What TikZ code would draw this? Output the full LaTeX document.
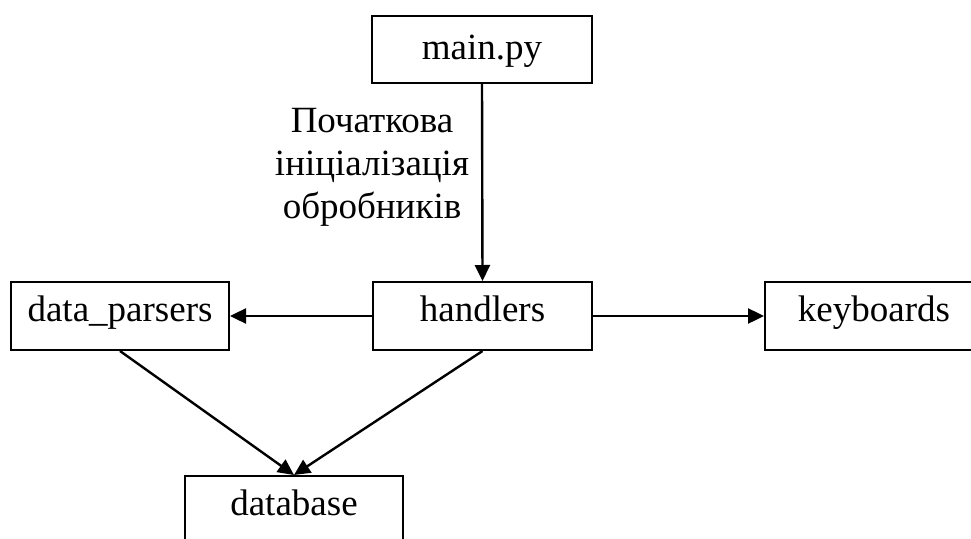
\documentclass[tikz,border=0pt]{standalone}
\usepackage{fontspec}
\setmainfont{Liberation Serif}
\usetikzlibrary{arrows.meta}

\begin{document}
\begin{tikzpicture}[x=1pt,y=-1pt,
  module/.style={draw, line width=2pt, minimum width=218pt, minimum height=68pt,
    inner sep=0pt, font=\fontsize{37}{43}\selectfont,
    text height=22pt, text depth=12pt},
  link/.style={line width=2.4pt, -{Triangle[length=16pt,width=15pt]}},
  note/.style={align=center, inner sep=0pt, font=\fontsize{37}{43}\selectfont}
]
  \clip (0,0) rectangle (971,538);

  % modules
  \node[module, minimum width=220pt, minimum height=67pt,
        text height=24pt, text depth=5pt] (main) at (482,49.5) {main.py};
  \node[module, minimum width=219pt] (handlers)  at (482.5,316) {handlers};
  \node[module] (parsers)   at (120,316) {data\_parsers};
  \node[module] (keyboards) at (874,316) {keyboards};
  \node[module] (database)  at (294,510) {database};

  % dependencies
  \draw[link] (main.south) -- (handlers.north);
  \draw[link] (handlers.west) -- (parsers.east);
  \draw[link] (handlers.east) -- (keyboards.west);
  \draw[link] (parsers.south) -- (database.north);
  \draw[link] (handlers.south) -- (database.north);

  % label of the initialisation step
  \node[note] (init) at (372,167) {Початкова\\ініціалізація\\обробників};
\end{tikzpicture}
\end{document}
